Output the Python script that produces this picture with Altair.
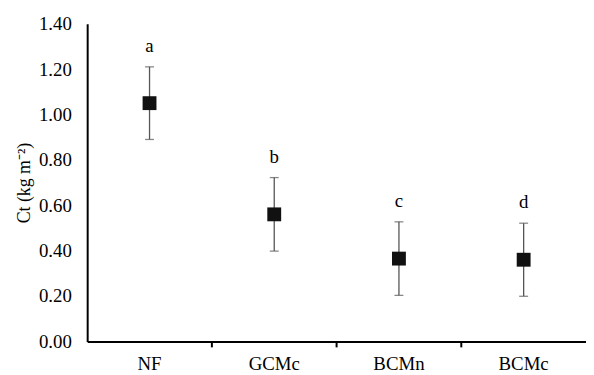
import altair as alt
import pandas as pd

categories = ["NF", "GCMc", "BCMn", "BCMc"]
means = [1.05, 0.56, 0.365, 0.36]
errors = [0.16, 0.162, 0.162, 0.161]
letters = ["a", "b", "c", "d"]

df = pd.DataFrame({
    "cat": categories,
    "mean": means,
    "lo": [m - e for m, e in zip(means, errors)],
    "hi": [m + e for m, e in zip(means, errors)],
    "letter": letters,
})

FONT = "Liberation Serif"
H = 321

xenc = alt.X("cat:N", sort=categories, title=None,
             scale=alt.Scale(paddingInner=0, paddingOuter=0),
             axis=alt.Axis(labelFont=FONT, labelFontSize=19, labelColor="black",
                           labelAngle=0, tickSize=0, labelPadding=13,
                           domainColor="black", domainWidth=2))
yscale = alt.Scale(domain=[0, 1.4], nice=False)

base = alt.Chart(df)

rules = base.mark_rule(color="#555555", strokeWidth=1.3).encode(
    x=xenc,
    y=alt.Y("lo:Q", scale=yscale, title="Ct (kg m⁻²)",
            axis=alt.Axis(values=[0, 0.2, 0.4, 0.6, 0.8, 1.0, 1.2, 1.4], format=".2f",
                          grid=False, tickSize=0, labelPadding=16,
                          labelFont=FONT, labelFontSize=19, labelColor="black",
                          titleFont=FONT, titleFontSize=18, titleFontWeight="normal",
                          titleColor="black", titlePadding=5,
                          domainColor="black", domainWidth=2)),
    y2="hi:Q",
)
cap_lo = base.mark_tick(color="#555555", thickness=1.3, size=9, orient="horizontal").encode(
    x=xenc, y=alt.Y("lo:Q", scale=yscale))
cap_hi = base.mark_tick(color="#555555", thickness=1.3, size=9, orient="horizontal").encode(
    x=xenc, y=alt.Y("hi:Q", scale=yscale))
points = base.mark_square(size=196, color="#111111", opacity=1).encode(
    x=xenc, y=alt.Y("mean:Q", scale=yscale))
labels = base.mark_text(font=FONT, fontSize=19, color="black", dy=-21).encode(
    x=xenc, y=alt.Y("hi:Q", scale=yscale), text="letter:N")

tick_df = pd.DataFrame({"cat": categories[1:]})
xticks = alt.Chart(tick_df).mark_rule(color="black", strokeWidth=2).encode(
    x=alt.X("cat:N", sort=categories, bandPosition=0),
    y=alt.value(H), y2=alt.value(H + 6))

chart = alt.layer(rules, cap_lo, cap_hi, points, labels, xticks).properties(
    width=504, height=H,
    autosize=alt.AutoSizeParams(type="none"),
    padding={"left": 80, "top": 14, "right": 0, "bottom": 30},
).configure_view(stroke=None)

chart.save("out.html", embed_options={"renderer": "svg", "actions": False})
